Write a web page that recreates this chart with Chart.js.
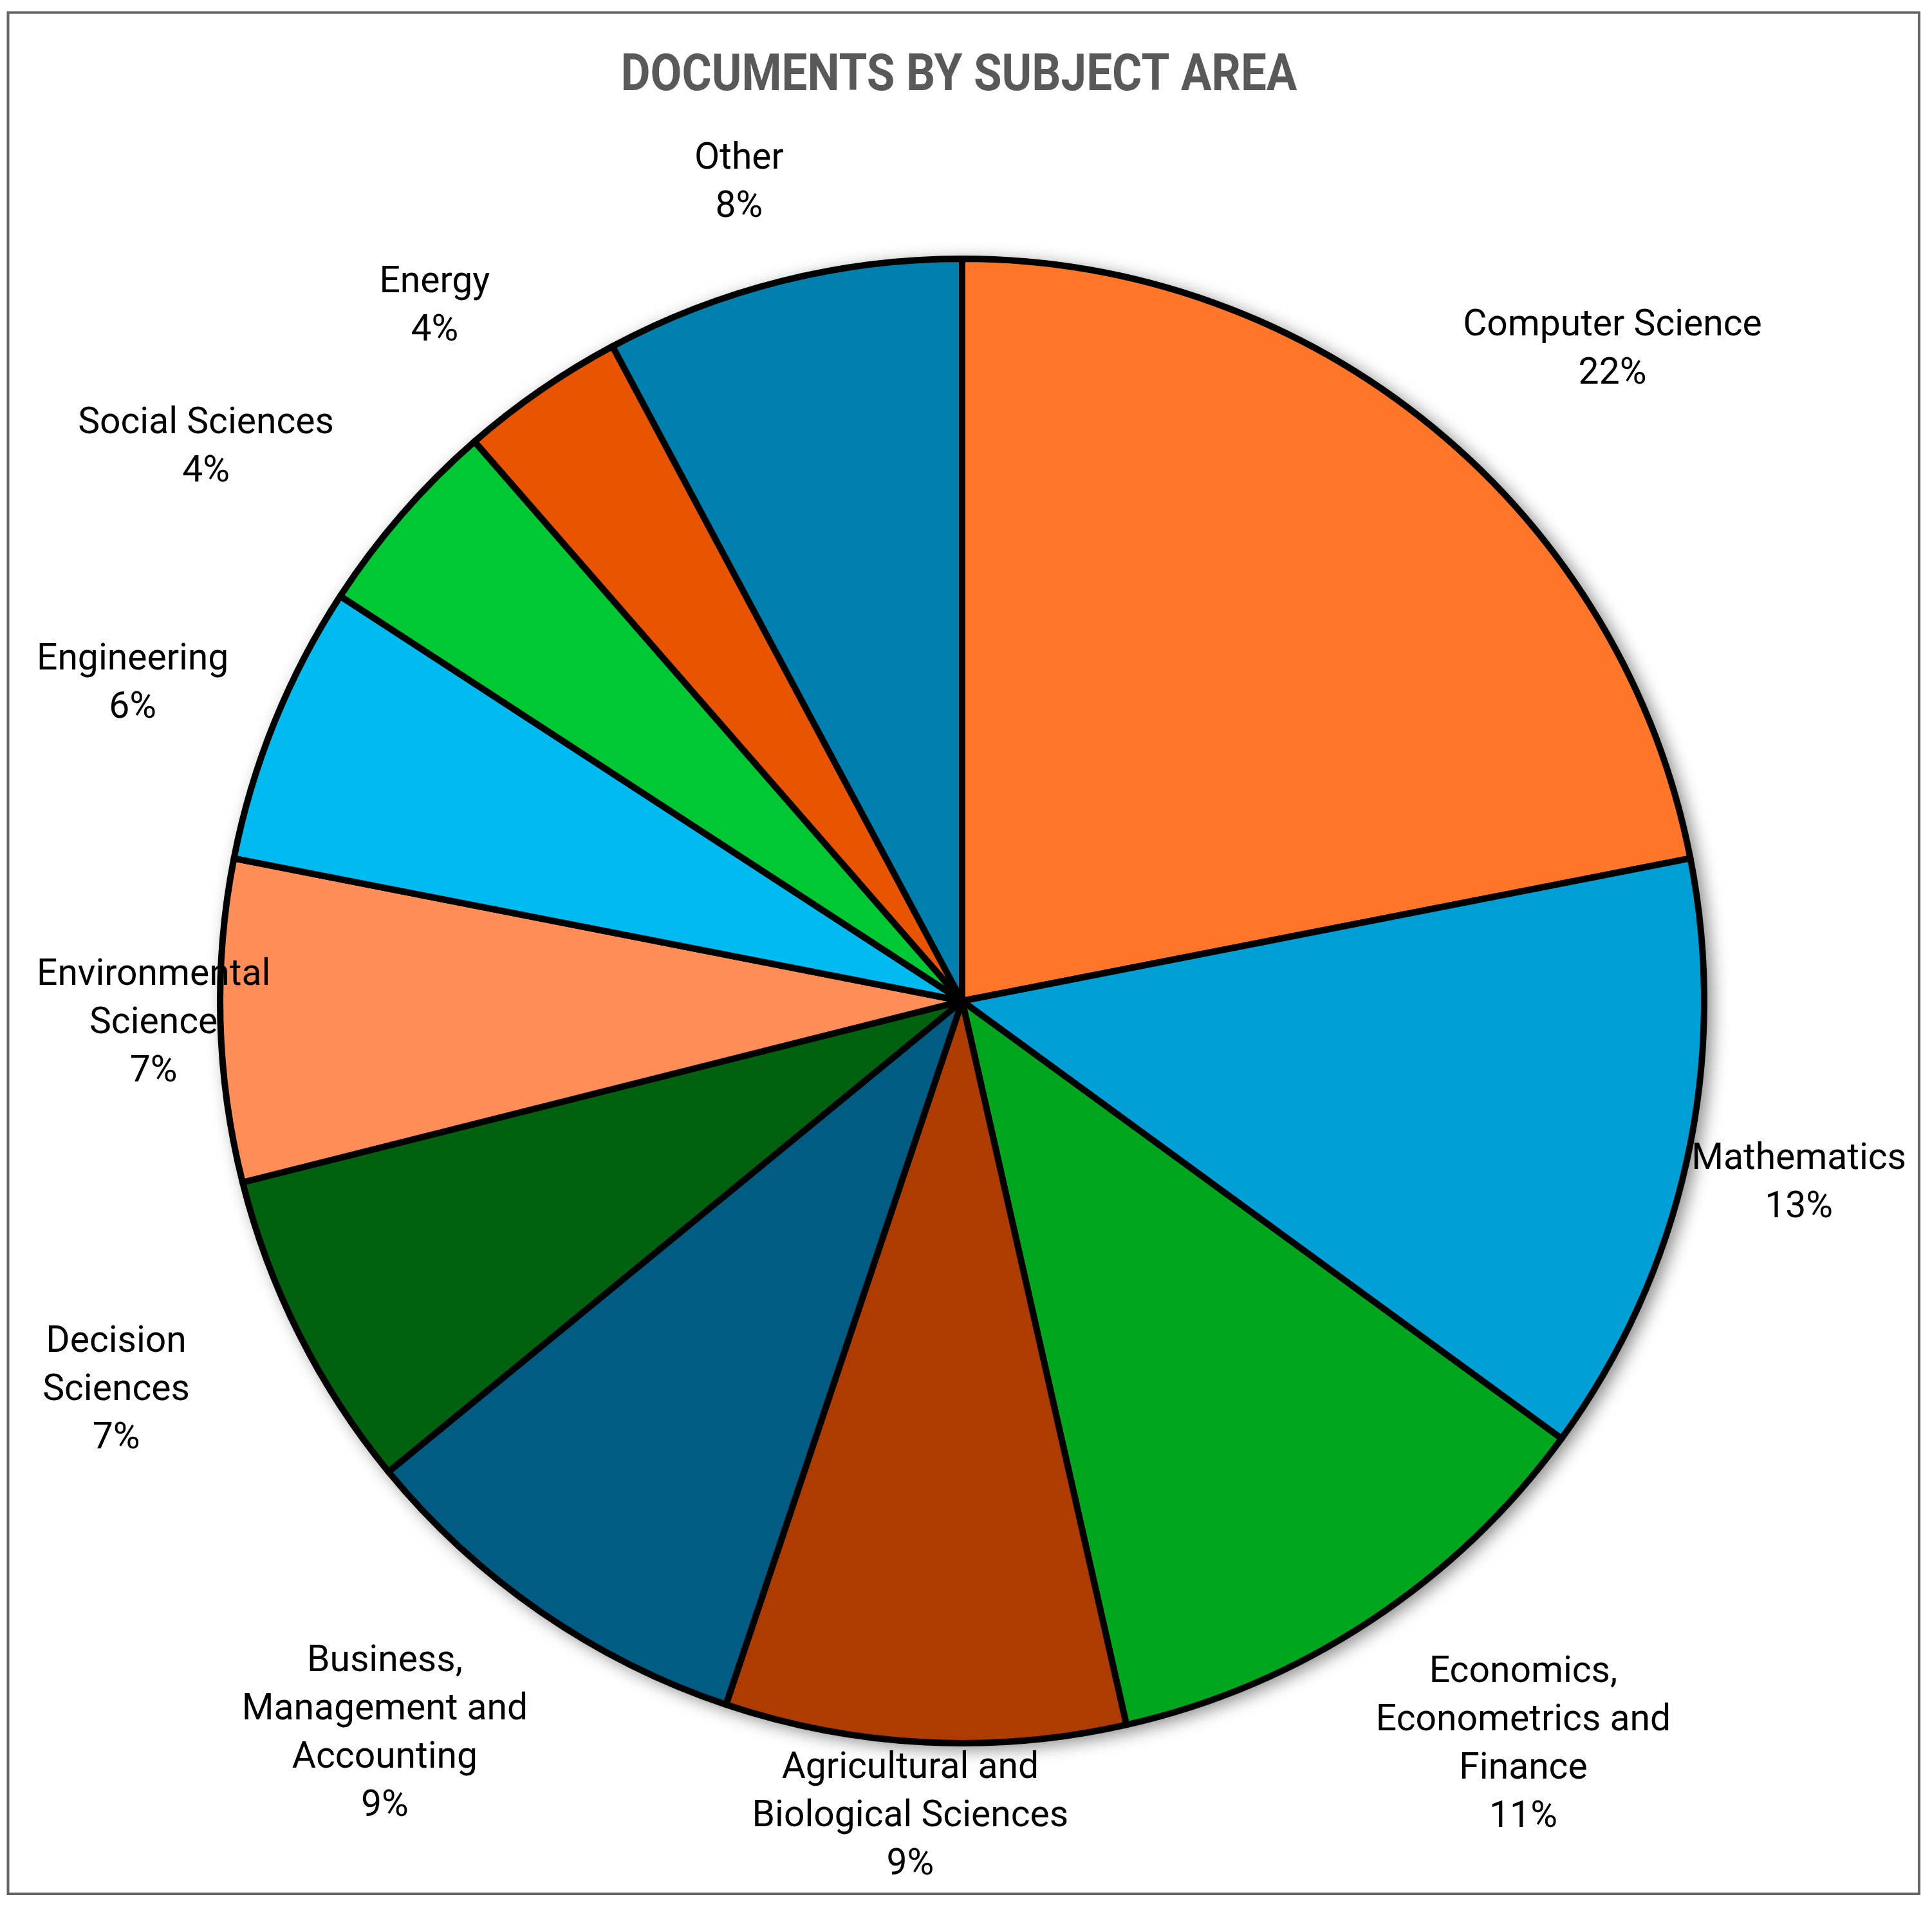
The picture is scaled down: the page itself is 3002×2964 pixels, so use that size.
<!DOCTYPE html>
<html>
<head>
<meta charset="utf-8">
<title>Documents by subject area</title>
<script src="https://cdn.jsdelivr.net/npm/chart.js@4.4.1/dist/chart.umd.min.js"></script>
<style>
  html, body { margin: 0; padding: 0; background: #fff; }
  #wrap { width: 3002px; height: 2964px; }
</style>
</head>
<body>
<div id="wrap"><canvas id="pie" width="3002" height="2964"></canvas></div>
<script>
const chartTitle = 'DOCUMENTS BY SUBJECT AREA';

// labels are split into the lines used on the chart
const subjects = [
  ['Computer Science'],
  ['Mathematics'],
  ['Economics,', 'Econometrics and', 'Finance'],
  ['Agricultural and', 'Biological Sciences'],
  ['Business,', 'Management and', 'Accounting'],
  ['Decision', 'Sciences'],
  ['Environmental', 'Science'],
  ['Engineering'],
  ['Social Sciences'],
  ['Energy'],
  ['Other']
];
const shares = [21.9, 13.1, 11.4, 8.7, 8.9, 7.0, 7.0, 6.1, 4.4, 3.6, 7.8];

const sliceColors = [
  '#ff7629', '#00a0d7', '#00a61b', '#ae3b00', '#005c82', '#00620f',
  '#ff8d58', '#00bbf0', '#00c832', '#e85400', '#0080ae'
];

const frame = { left: 12.5, top: 19.5, right: 2982, bottom: 2942 };
const labelFont = '57px Roboto';
const lineH = 75;

const framePlugin = {
  id: 'frame',
  beforeDraw(chart) {
    const ctx = chart.ctx;
    ctx.save();
    ctx.fillStyle = '#fff';
    ctx.fillRect(0, 0, chart.width, chart.height);
    ctx.strokeStyle = '#646464';
    ctx.lineWidth = 4;
    ctx.strokeRect(frame.left, frame.top, frame.right - frame.left, frame.bottom - frame.top);

    // title, squeezed a little to look like the narrow office font
    ctx.font = 'bold 80px Roboto';
    ctx.fillStyle = '#595959';
    ctx.textAlign = 'center';
    ctx.textBaseline = 'middle';
    const w = ctx.measureText(chartTitle).width;
    const sx = 1051 / w;
    ctx.translate(1490, 120);
    ctx.scale(sx, 1);
    ctx.fillText(chartTitle, 0, 0);
    ctx.restore();
  }
};

const shadowPlugin = {
  id: 'pieShadow',
  beforeDatasetsDraw(chart) {
    const arc = chart.getDatasetMeta(0).data[0];
    if (!arc) return;
    const ctx = chart.ctx;
    ctx.save();
    ctx.shadowColor = 'rgba(0,0,0,0.45)';
    ctx.shadowBlur = 26;
    ctx.shadowOffsetX = 9;
    ctx.shadowOffsetY = 6;
    ctx.fillStyle = '#000';
    ctx.beginPath();
    ctx.arc(arc.x, arc.y, arc.outerRadius + 4, 0, Math.PI * 2);
    ctx.fill();
    ctx.restore();
  }
};

const labelPlugin = {
  id: 'outsideLabels',
  afterDatasetsDraw(chart) {
    const ctx = chart.ctx;
    const meta = chart.getDatasetMeta(0);
    const data = chart.data.datasets[0].data;
    const total = data.reduce((s, v) => s + v, 0);
    ctx.save();
    ctx.font = labelFont;
    ctx.fillStyle = '#000';
    ctx.textAlign = 'center';
    ctx.textBaseline = 'middle';
    meta.data.forEach((arc, i) => {
      const lines = chart.data.labels[i].concat([Math.round(data[i] / total * 100) + '%']);
      const w = Math.max(...lines.map(l => ctx.measureText(l).width));
      const h = lines.length * lineH;
      const a = (arc.startAngle + arc.endAngle) / 2;
      const d = arc.outerRadius * 1.07;
      let cx = arc.x + Math.cos(a) * (d + 124 + w / 2);
      let cy = arc.y + Math.sin(a) * (d + h / 2);
      // keep the box inside the frame
      cx = Math.min(Math.max(cx, 57 + w / 2), 2962 - w / 2);
      cy = Math.min(Math.max(cy, 40 + h / 2), 2935 - h / 2);
      lines.forEach((l, k) => {
        ctx.fillText(l, cx, cy - h / 2 + lineH * (k + 0.5));
      });
    });
    ctx.restore();
  }
};

new Chart(document.getElementById('pie'), {
  type: 'pie',
  data: {
    labels: subjects,
    datasets: [{
      data: shares,
      backgroundColor: sliceColors,
      borderColor: '#000',
      borderWidth: 10,
      borderJoinStyle: 'round'
    }]
  },
  options: {
    responsive: false,
    animation: false,
    devicePixelRatio: 1,
    radius: 1153,
    layout: { padding: { left: 295, right: 307, top: 355, bottom: 209 } },
    plugins: {
      legend: { display: false },
      tooltip: { enabled: false },
      title: { display: false }
    }
  },
  plugins: [framePlugin, shadowPlugin, labelPlugin]
});
</script>
</body>
</html>
